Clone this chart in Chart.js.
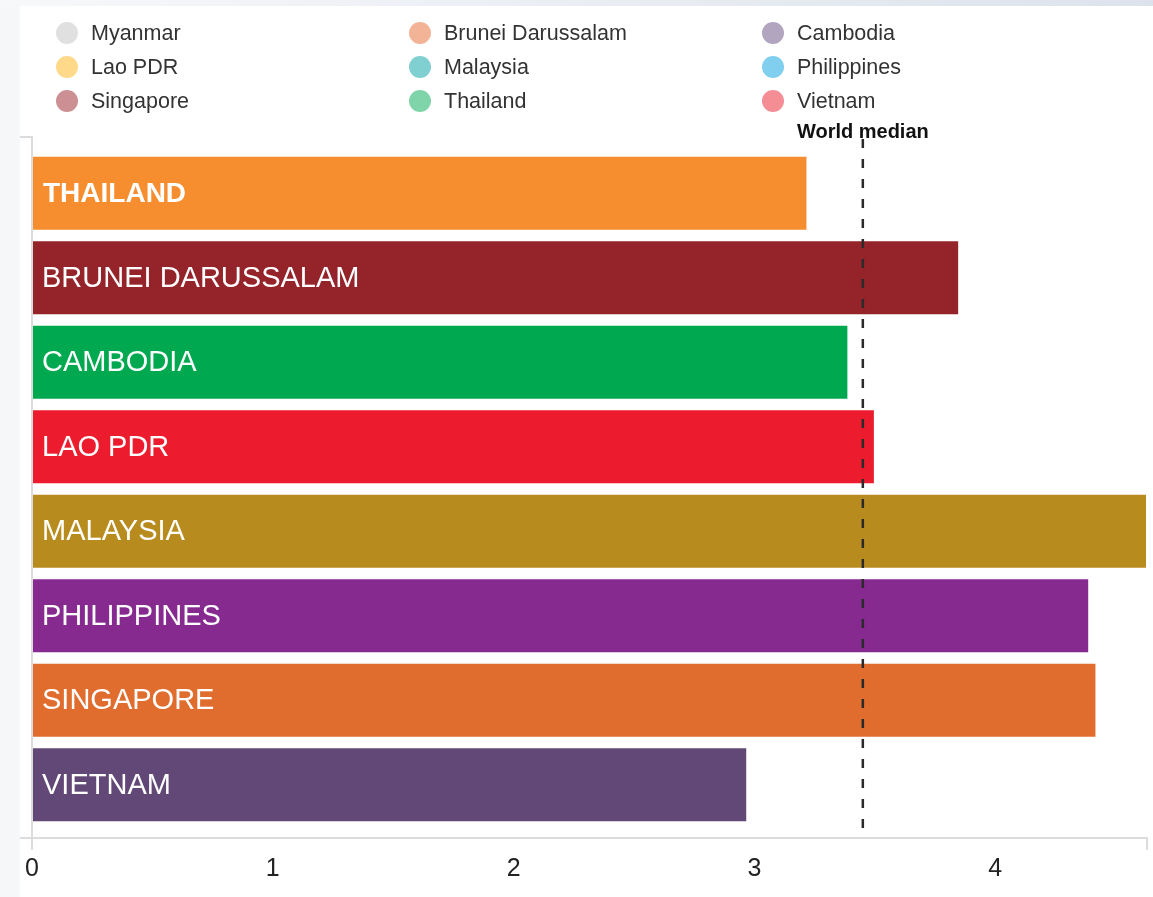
<!DOCTYPE html>
<html>
<head>
<meta charset="utf-8">
<title>ASEAN score vs world median</title>
<script src="https://cdn.jsdelivr.net/npm/chart.js@4"></script>
<style>
  html, body { margin: 0; padding: 0; }
  body {
    width: 1153px; height: 897px; overflow: hidden; position: relative;
    background: #f6f7f9;
    font-family: "Liberation Sans", Arial, sans-serif;
  }
  #topStrip {
    position: absolute; left: 0; top: 0; width: 1153px; height: 6px;
    background: linear-gradient(to right, #f7f8fa, #dde3ec);
  }
  #panel {
    position: absolute; left: 20px; top: 6px; right: 0; bottom: 0;
    background: #fff;
  }
  #chartBox { position: absolute; left: 0; top: 0; width: 1153px; height: 897px; }
  #legend { position: absolute; left: 56px; top: 20px; }
  .lg-item {
    position: absolute; display: flex; align-items: center;
    font-size: 21.5px; color: #333; white-space: nowrap; height: 26px;
  }
  .lg-dot { width: 22px; height: 22px; border-radius: 50%; margin-right: 13px; }
</style>
</head>
<body>
<div id="topStrip"></div>
<div id="panel"></div>
<div id="chartBox"><canvas id="barChart" width="1153" height="897"></canvas></div>
<div id="legend"></div>

<script>
// 棒グラフのデータ
const countries = ['Thailand', 'Brunei Darussalam', 'Cambodia', 'Lao PDR', 'Malaysia', 'Philippines', 'Singapore', 'Vietnam'];
const scores = [3.22, 3.85, 3.39, 3.50, 4.63, 4.39, 4.42, 2.97];
const barColors = ['#f68d2e', '#95232a', '#00a94f', '#ec1c2e', '#b88b1e', '#862a90', '#e06c2e', '#624876'];
const highlighted = 'Thailand';

// 凡例（3列）
const legendNames = ['Myanmar', 'Brunei Darussalam', 'Cambodia', 'Lao PDR', 'Malaysia', 'Philippines', 'Singapore', 'Thailand', 'Vietnam'];
const legendColors = ['#e0e0e0', '#f2b396', '#b2a5bf', '#ffd98a', '#80cfd1', '#80cfee', '#cc9094', '#80d4a9', '#f58d95'];

const xTicks = [0, 1, 2, 3, 4];
const xMax = 4.63;
const worldMedian = 3.45;

const FONT = '"Liberation Sans", Arial, sans-serif';

// 凡例を作る
const legendEl = document.getElementById('legend');
legendNames.forEach((name, i) => {
    const item = document.createElement('div');
    item.className = 'lg-item';
    item.style.left = (i % 3) * 353 + 'px';
    item.style.top = Math.floor(i / 3) * 34 + 'px';
    const dot = document.createElement('span');
    dot.className = 'lg-dot';
    dot.style.background = legendColors[i];
    const txt = document.createElement('span');
    txt.textContent = name;
    item.appendChild(dot);
    item.appendChild(txt);
    legendEl.appendChild(item);
});

// 軸の線（両端の外側目盛り付き）
const axisFrame = {
    id: 'axisFrame',
    afterDraw(chart) {
        const { ctx, chartArea } = chart;
        const left = chartArea.left, right = chartArea.right;
        const yTop = chartArea.top - 14, yBase = chartArea.bottom + 11;
        ctx.save();
        ctx.strokeStyle = '#dcdcdc';
        ctx.lineWidth = 2;
        ctx.beginPath();
        ctx.moveTo(left - 12, yTop);
        ctx.lineTo(left, yTop);
        ctx.lineTo(left, yBase + 12);
        ctx.moveTo(left - 12, yBase);
        ctx.lineTo(right, yBase);
        ctx.lineTo(right, yBase + 12);
        ctx.stroke();
        ctx.restore();
    }
};

// 棒の中に国名
const barLabels = {
    id: 'barLabels',
    afterDatasetsDraw(chart) {
        const { ctx } = chart;
        const meta = chart.getDatasetMeta(0);
        ctx.save();
        ctx.fillStyle = '#fff';
        ctx.textBaseline = 'middle';
        ctx.textAlign = 'left';
        meta.data.forEach((bar, i) => {
            const bold = countries[i] === highlighted;
            ctx.font = (bold ? 'bold 28px ' : '29px ') + FONT;
            ctx.fillText(countries[i].toUpperCase(), bar.base + (bold ? 11 : 10), bar.y + 1);
        });
        ctx.restore();
    }
};

// 世界の中央値（破線）
const medianLine = {
    id: 'medianLine',
    afterDraw(chart) {
        const { ctx, chartArea } = chart;
        const x = chart.scales.x.getPixelForValue(worldMedian);
        ctx.save();
        ctx.strokeStyle = '#2a2a2a';
        ctx.lineWidth = 2.5;
        ctx.setLineDash([9, 11]);
        ctx.beginPath();
        ctx.moveTo(x, chartArea.top - 12);
        ctx.lineTo(x, chartArea.bottom + 3);
        ctx.stroke();
        ctx.setLineDash([]);
        ctx.fillStyle = '#111';
        ctx.font = 'bold 20px ' + FONT;
        ctx.textAlign = 'center';
        ctx.textBaseline = 'alphabetic';
        ctx.fillText('World median', x, chartArea.top - 13);
        ctx.restore();
    }
};

Chart.defaults.animation = false;
Chart.defaults.font.family = FONT;

new Chart(document.getElementById('barChart'), {
    type: 'bar',
    data: {
        labels: countries,
        datasets: [{
            data: scores,
            backgroundColor: barColors,
            borderColor: 'rgba(255, 255, 255, 0.35)',
            borderWidth: 1,
            barPercentage: 0.885,
            categoryPercentage: 1
        }]
    },
    options: {
        indexAxis: 'y',
        responsive: false,
        layout: { padding: { left: 32, right: 6, top: 151, bottom: 0 } },
        plugins: {
            legend: { display: false },
            tooltip: { enabled: false }
        },
        scales: {
            x: {
                min: 0,
                max: xMax,
                border: { display: false },
                grid: { display: false, drawTicks: false },
                afterFit: (scale) => {
                    scale.height = 70;
                    scale.paddingLeft = 0;
                    scale.paddingRight = 0;
                },
                afterBuildTicks: (scale) => { scale.ticks = xTicks.map(v => ({ value: v })); },
                ticks: {
                    padding: 27,
                    color: '#222',
                    font: { size: 25 }
                }
            },
            y: {
                display: false,
                offset: true
            }
        }
    },
    plugins: [axisFrame, barLabels, medianLine]
});
</script>
</body>
</html>
